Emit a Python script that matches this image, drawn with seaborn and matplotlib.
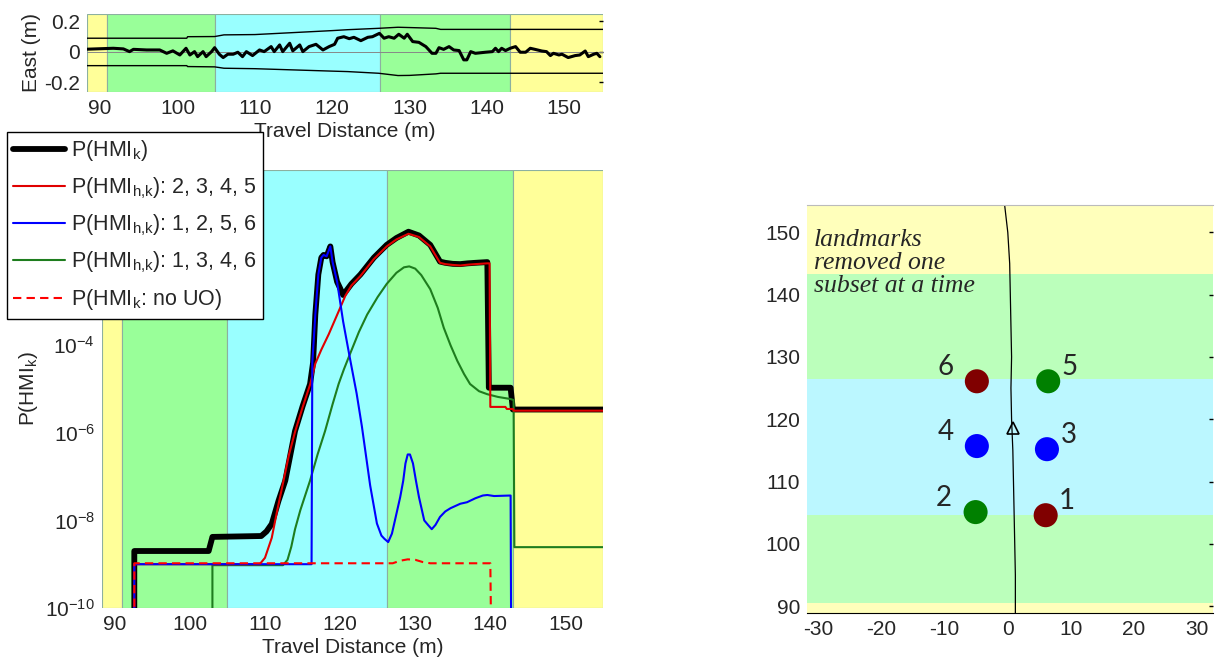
import numpy as np
import pandas as pd
import matplotlib
matplotlib.use("Agg")
import matplotlib.pyplot as plt
import seaborn as sns
from matplotlib.ticker import FixedLocator, FuncFormatter

# ---------------- data ----------------
# top panel: east error along track
east_x = [88.35, 91.7, 93.0, 93.8, 94.3, 96.0, 97.7, 98.6, 99.4, 100.3, 101.1, 101.6, 102.2, 102.6,
          103.3, 103.7, 104.4, 104.8, 105.4, 105.9, 106.5, 107.2, 107.8, 108.4, 108.9, 109.7, 110.6,
          111.2, 112.1, 112.5, 113.2, 113.6, 114.5, 114.9, 115.8, 116.2, 117.0, 117.9, 118.8, 119.6,
          120.3, 120.7, 121.5, 122.2, 122.8, 123.7, 124.6, 125.2, 126.1, 126.7, 127.3, 128.0, 128.6,
          129.3, 129.7, 130.4, 131.2, 132.1, 132.9, 133.4, 133.8, 134.4, 135.1, 135.7, 136.4, 137.0,
          137.4, 137.9, 138.5, 139.8, 140.7, 141.1, 141.5, 141.9, 142.4, 143.0, 143.7, 144.3, 145.0,
          145.6, 146.2, 147.1, 147.7, 148.2, 148.6, 149.3, 149.7, 150.5, 151.4, 152.0, 152.7, 153.1,
          153.8, 154.2, 154.6]
east_v = [0.016, 0.022, 0.018, 0.000, 0.015, 0.011, 0.011, -0.011, 0.005, -0.022, 0.022, -0.022, 0.000,
          -0.033, 0.000, -0.033, 0.000, 0.026, -0.017, -0.039, -0.017, -0.017, -0.004, -0.033, 0.000,
          -0.026, 0.011, 0.000, 0.033, 0.000, 0.044, 0.000, 0.055, 0.005, 0.044, 0.000, 0.033, 0.048,
          0.011, 0.033, 0.048, 0.088, 0.098, 0.085, 0.094, 0.072, 0.094, 0.098, 0.120, 0.088, 0.098,
          0.088, 0.114, 0.088, 0.114, 0.066, 0.061, 0.033, -0.011, -0.011, 0.026, 0.015, 0.033, 0.011,
          0.007, -0.054, -0.054, 0.000, -0.011, -0.004, 0.000, 0.022, 0.000, 0.022, 0.007, 0.022, 0.033,
          -0.004, -0.004, 0.022, 0.015, 0.004, 0.000, -0.026, -0.011, -0.022, -0.017, -0.039, -0.026,
          -0.022, 0.004, -0.033, -0.017, -0.011, -0.033]
bound_x = [88.3, 101.2, 101.3, 104.8, 106.0, 110.0, 115.0, 120.0, 122.0, 126.0, 128.5, 130.0, 133.4, 134.0, 155.0]
bound_up = [0.088, 0.088, 0.098, 0.099, 0.110, 0.112, 0.125, 0.138, 0.144, 0.153, 0.160, 0.158, 0.153, 0.146, 0.146]
bound_lo = [-0.092, -0.092, -0.098, -0.100, -0.109, -0.112, -0.120, -0.128, -0.131, -0.142, -0.157, -0.156, -0.146, -0.142, -0.142]

# bottom panel: integrity risk curves
hmi_x = [92.6, 92.6, 102.5, 103.0, 109.5, 110.2, 110.9, 111.8, 112.7, 114.0, 115.0, 116.0, 116.4, 116.7,
         117.1, 117.5, 117.8, 118.2, 118.7, 119.0, 119.6, 120.0, 120.4, 121.5, 122.7, 124.5, 126.2,
         127.5, 129.1, 130.5, 132.0, 133.3, 134.0, 135.0, 136.0, 137.0, 138.0, 139.6, 139.8, 142.7,
         143.0, 155.0]
hmi_p = [1e-12, 2.0e-9, 2.0e-9, 4.2e-9, 4.4e-9, 5.6e-9, 8.3e-9, 2.8e-8, 8.1e-8, 1.1e-6, 4.0e-6, 1.3e-5,
         4.0e-5, 5.0e-4, 4.1e-3, 1.0e-2, 1.15e-2, 1.07e-2, 1.8e-2, 7.9e-3, 2.8e-3, 2.0e-3, 1.4e-3,
         2.5e-3, 4.1e-3, 1.0e-2, 1.95e-2, 2.8e-2, 3.9e-2, 3.2e-2, 1.95e-2, 8.1e-3, 7.6e-3, 7.2e-3,
         7.1e-3, 7.4e-3, 7.6e-3, 7.9e-3, 1.07e-5, 1.07e-5, 3.4e-6, 3.4e-6]

red_x = [92.6, 92.6, 109.3, 110.0, 110.9, 111.6, 112.4, 113.2, 114.0, 115.0, 116.0, 116.7, 117.5, 118.5,
         119.8, 120.7, 121.5, 122.7, 124.5, 126.2, 127.5, 129.1, 130.5, 132.0, 133.3, 134.0, 135.0,
         136.0, 137.0, 138.0, 139.6, 139.9, 140.0, 142.0, 142.2, 143.0, 143.1, 155.0]
red_p = [1e-12, 1.0e-9, 1.0e-9, 1.4e-9, 4.0e-9, 1.6e-8, 7.1e-8, 3.2e-7, 1.05e-6, 3.8e-6, 1.26e-5, 3.8e-5,
         7.9e-5, 1.8e-4, 5.9e-4, 1.35e-3, 2.3e-3, 3.8e-3, 9.3e-3, 1.8e-2, 2.6e-2, 3.5e-2, 2.95e-2,
         1.8e-2, 7.6e-3, 7.1e-3, 6.8e-3, 6.6e-3, 6.9e-3, 7.1e-3, 7.4e-3, 7.4e-3, 3.9e-6, 3.9e-6,
         3.5e-6, 3.5e-6, 3.2e-6, 3.2e-6]

blue_x = [92.6, 92.6, 116.2, 116.3, 116.7, 117.1, 117.5, 117.8, 118.2, 118.7, 119.0, 119.6, 120.4, 121.3,
          122.2, 122.9, 124.0, 124.9, 125.5, 125.9, 126.4, 126.9, 127.3, 128.0, 128.4, 128.7, 129.0,
          129.3, 129.7, 130.1, 130.5, 131.2, 131.7, 132.2, 132.7, 133.3, 134.0, 134.7, 136.0, 136.9,
          138.0, 139.0, 139.6, 140.5, 142.7, 142.8]
blue_p = [1e-12, 1.0e-9, 1.0e-9, 4.0e-5, 5.0e-4, 4.1e-3, 1.0e-2, 1.15e-2, 1.07e-2, 1.8e-2, 7.9e-3, 2.8e-3,
          3.5e-4, 5.1e-5, 7.9e-6, 1.4e-6, 6.3e-8, 8.5e-9, 4.5e-9, 3.8e-9, 3.2e-9, 5.0e-9, 1.0e-8,
          3.4e-8, 8.0e-8, 2.0e-7, 3.2e-7, 3.2e-7, 2.0e-7, 8.0e-8, 3.4e-8, 1.0e-8, 7.9e-9, 6.3e-9,
          7.9e-9, 1.2e-8, 1.6e-8, 1.9e-8, 2.4e-8, 2.6e-8, 3.2e-8, 3.7e-8, 3.8e-8, 3.6e-8, 3.7e-8, 1e-12]

green_x = [103.0, 103.0, 112.4, 113.0, 113.5, 114.0, 114.7, 115.3, 116.0, 117.0, 118.0, 119.0, 119.8,
           120.5, 121.3, 122.5, 123.6, 125.0, 126.2, 127.5, 128.5, 129.2, 130.0, 130.8, 132.0, 133.0,
           133.8, 134.7, 135.6, 136.5, 137.3, 138.5, 139.6, 141.0, 142.7, 143.1, 143.2, 155.0]
green_p = [1e-12, 9.5e-10, 9.5e-10, 1.26e-9, 2.5e-9, 6.3e-9, 1.7e-8, 3.5e-8, 8.1e-8, 3.2e-7, 1.1e-6,
           4.5e-6, 1.3e-5, 2.8e-5, 6.2e-5, 2.0e-4, 5.0e-4, 1.26e-3, 2.5e-3, 4.5e-3, 6.0e-3, 6.3e-3,
           5.6e-3, 4.0e-3, 1.9e-3, 7.1e-4, 2.5e-4, 1.0e-4, 4.4e-5, 2.2e-5, 1.3e-5, 8.9e-6, 7.6e-6,
           6.6e-6, 5.9e-6, 5.6e-6, 2.45e-9, 2.45e-9]

nouo_x = [92.6, 92.6, 127.0, 128.0, 129.0, 130.0, 131.0, 132.0, 140.0, 140.2]
nouo_p = [1e-12, 1.05e-9, 1.05e-9, 1.2e-9, 1.29e-9, 1.26e-9, 1.12e-9, 1.05e-9, 1.05e-9, 1e-12]

legend_labels = ["P(HMI$_k$)", "P(HMI$_{h{,}k}$): 2, 3, 4, 5", "P(HMI$_{h{,}k}$): 1, 2, 5, 6",
                 "P(HMI$_{h{,}k}$): 1, 3, 4, 6", "P(HMI$_k$: no UO)"]

# shaded segments (travel distance)
seg_edges = [88.3, 90.9, 104.9, 126.2, 143.0, 155.0]
seg_kind = ["yellow", "green", "cyan", "green", "yellow"]

# map panel
map_edges = [88.9, 90.5, 104.7, 126.4, 143.3, 154.4]
lm_x = [6.0, -5.1, 6.2, -4.9, 6.4, -4.9]
lm_y = [104.6, 105.1, 115.2, 115.7, 126.1, 126.1]
lm_id = ["1", "2", "3", "4", "5", "6"]
lm_col = ["#800000", "#008000", "#0000ff", "#0000ff", "#008000", "#800000"]
traj_x = [1.2, 1.2, 1.1, 1.0, 0.9, 0.8, 0.6, 0.5, 0.6, 0.5, 0.4, 0.3, 0.0, -0.5]
traj_y = [88.9, 95.0, 100.0, 105.0, 110.0, 115.0, 120.0, 125.0, 130.0, 135.0, 140.0, 145.0, 150.0, 154.4]
veh_x, veh_y = 0.8, 118.6

# ---------------- style ----------------
sns.set_style("white")
plt.rcParams["font.family"] = ["Liberation Sans", "DejaVu Sans"]
plt.rcParams["mathtext.default"] = "regular"
plt.rcParams["axes.unicode_minus"] = False

FS = 15
left_cols = {"yellow": "#ffff99", "green": "#99ff99", "cyan": "#99ffff"}
map_cols = {"yellow": "#ffffbb", "green": "#bbffbb", "cyan": "#bbf7ff"}

W, H = 1215, 660
fig = plt.figure(figsize=(W / 100, H / 100), dpi=100)

def frac(l, t, r, b):
    return [l / W, 1 - b / H, (r - l) / W, (b - t) / H]

ax1 = fig.add_axes(frac(87, 14, 603, 92))
ax2 = fig.add_axes(frac(102, 170, 603, 608))
ax3 = fig.add_axes(frac(807, 205, 1213, 613))

# --- top panel ---
for i, k in enumerate(seg_kind):
    ax1.axvspan(seg_edges[i], seg_edges[i + 1], facecolor=left_cols[k], edgecolor="#8cb0a0", lw=0.8, zorder=0)
ax1.axhline(0, color="#888888", lw=0.7, zorder=1)
sns.lineplot(x=bound_x, y=bound_up, ax=ax1, color="black", lw=1.0, estimator=None, sort=False, legend=False)
sns.lineplot(x=bound_x, y=bound_lo, ax=ax1, color="black", lw=1.0, estimator=None, sort=False, legend=False)
sns.lineplot(x=east_x, y=east_v, ax=ax1, color="black", lw=2.2, estimator=None, sort=False, legend=False)
ax1.set_xlim(88.3, 155)
ax1.set_ylim(-0.265, 0.247)
ax1.set_xticks([90, 100, 110, 120, 130, 140, 150])
ax1.set_yticks([-0.2, 0, 0.2])
ax1.yaxis.set_major_formatter(FuncFormatter(lambda v, p: "0" if abs(v) < 1e-9 else f"{v:.1f}"))
ax1.set_xlabel("Travel Distance (m)", fontsize=FS, labelpad=3)
ax1.set_ylabel("East (m)", fontsize=FS, labelpad=2)
ax1.tick_params(labelsize=FS, length=0, pad=5)
ax1.tick_params(axis="y", right=True, direction="in", length=3, width=1, color="black")
for s in ax1.spines.values():
    s.set_visible(False)

# --- bottom panel ---
for i, k in enumerate(seg_kind):
    ax2.axvspan(seg_edges[i], seg_edges[i + 1], facecolor=left_cols[k], edgecolor="#8cb0a0", lw=0.8, zorder=0)
sns.lineplot(x=hmi_x, y=hmi_p, ax=ax2, color="black", lw=4.2, estimator=None, sort=False, legend=False,
             label=legend_labels[0])
sns.lineplot(x=green_x, y=green_p, ax=ax2, color="#1e7d1e", lw=1.5, estimator=None, sort=False, legend=False,
             label=legend_labels[3])
sns.lineplot(x=red_x, y=red_p, ax=ax2, color="#e00000", lw=1.5, estimator=None, sort=False, legend=False,
             label=legend_labels[1])
sns.lineplot(x=blue_x, y=blue_p, ax=ax2, color="#0000ff", lw=1.5, estimator=None, sort=False, legend=False,
             label=legend_labels[2])
sns.lineplot(x=nouo_x, y=nouo_p, ax=ax2, color="#ff0000", lw=1.5, linestyle=(0, (4, 2.5)), estimator=None,
             sort=False, legend=False, label=legend_labels[4])
ax2.set_yscale("log")
ax2.set_xlim(88.3, 155)
ax2.set_ylim(1e-10, 1.0)
ax2.set_xticks([90, 100, 110, 120, 130, 140, 150])
# ticks at 1e-2 and 1e0 sit behind the legend in the reference, so only the visible ones are labelled
ax2.yaxis.set_major_locator(FixedLocator([1e-10, 1e-8, 1e-6, 1e-4]))
ax2.yaxis.set_minor_locator(FixedLocator([]))
ax2.set_xlabel("Travel Distance (m)", fontsize=FS, labelpad=3)
ax2.set_ylabel("P(HMI$_k$)", fontsize=FS, labelpad=4)
ax2.tick_params(labelsize=FS, length=0, pad=5)
for s in ax2.spines.values():
    s.set_visible(False)

handles, labels = ax2.get_legend_handles_labels()
order = [labels.index(l) for l in legend_labels]
leg = fig.legend([handles[i] for i in order], [labels[i] for i in order], loc="upper left",
                 bbox_to_anchor=(7 / W, 1 - 132 / H), fontsize=15.5, frameon=True, fancybox=False,
                 framealpha=1, edgecolor="black", borderpad=0.3, labelspacing=0.55, handlelength=2.4,
                 handletextpad=0.25, borderaxespad=0)
leg.get_frame().set_linewidth(1.0)
leg.set_zorder(10)

# --- map panel ---
for i, k in enumerate(seg_kind):
    ax3.axhspan(map_edges[i], map_edges[i + 1], facecolor=map_cols[k], edgecolor="none", zorder=0)
sns.lineplot(x=traj_x, y=traj_y, ax=ax3, color="black", lw=0.9, estimator=None, sort=False, legend=False)
ax3.plot([veh_x], [veh_y], marker="^", ms=8, mfc="none", mec="black", mew=1.2, zorder=4)
lm = pd.DataFrame({"x": lm_x, "y": lm_y, "id": lm_id})
sns.scatterplot(data=lm, x="x", y="y", hue="id", palette=dict(zip(lm_id, lm_col)), s=300, linewidth=0,
                ax=ax3, legend=False, zorder=5)
for xi, yi, t in zip(lm_x, lm_y, lm_id):
    ax3.text(xi + (3.4 if xi > 0 else -5.0), yi + 2.3, t, fontsize=20, family="Lato", ha="center",
             va="center", zorder=6)
ax3.text(-30.7, 150.6, "landmarks\nremoved one\nsubset at a time", family="Liberation Serif",
         style="italic", fontsize=18.5, va="top", ha="left", linespacing=1.08, zorder=6)
ax3.set_xlim(-31.8, 32.5)
ax3.set_ylim(88.9, 154.4)
ax3.set_xticks([-30, -20, -10, 0, 10, 20, 30])
ax3.set_yticks([90, 100, 110, 120, 130, 140, 150])
ax3.set_xlabel("")
ax3.set_ylabel("")
ax3.tick_params(labelsize=FS, length=0, pad=5)
ax3.tick_params(axis="y", right=True, direction="in", length=3, width=1, color="black")
for s in ["left", "right"]:
    ax3.spines[s].set_visible(False)
ax3.spines["top"].set_color("#bbbbbb")
ax3.spines["top"].set_linewidth(0.8)
ax3.spines["bottom"].set_color("black")
ax3.spines["bottom"].set_linewidth(0.8)

fig.savefig("out.png", dpi=100)
